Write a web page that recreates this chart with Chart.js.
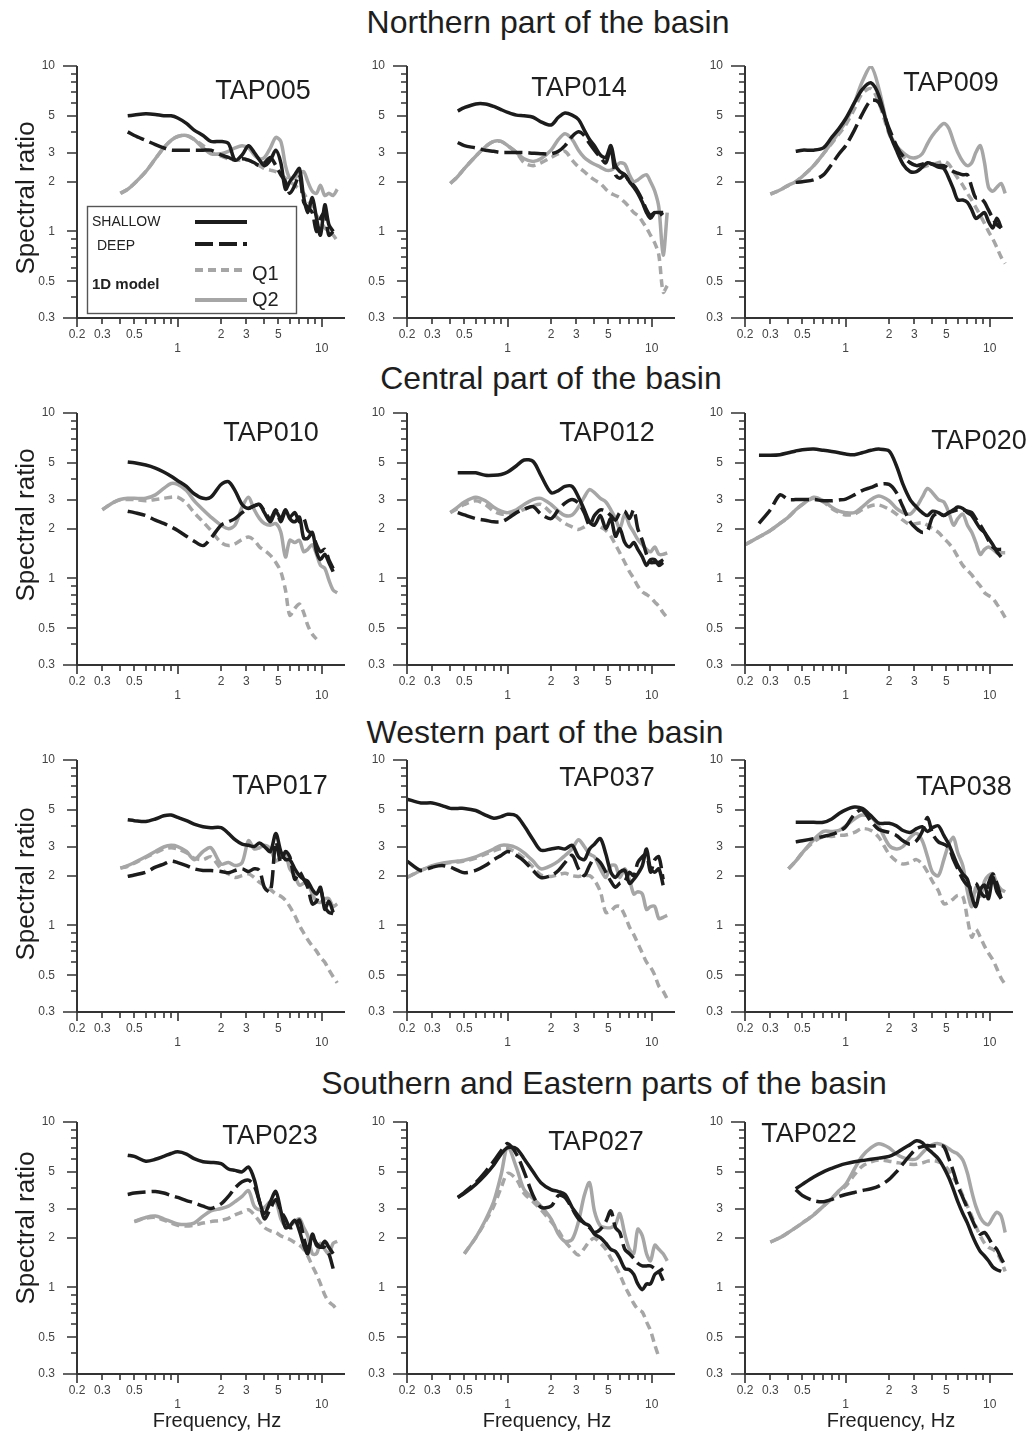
<!DOCTYPE html>
<html>
<head>
<meta charset="utf-8">
<title>Spectral ratios across the basin</title>
<script src="https://cdn.jsdelivr.net/npm/chart.js@4.4.1/dist/chart.umd.min.js"></script>
<style>
  html, body { margin: 0; padding: 0; background: #fff; }
  #page { position: relative; width: 1034px; height: 1433px; overflow: hidden;
          font-family: "Liberation Sans", Arial, sans-serif; color: #1e1e1e; }
  canvas { position: absolute; }
  .section, .station, .ytitle, .xtitle { position: absolute; white-space: nowrap; line-height: 1; }
  .section { font-size: 32px; transform: translate(-50%, -50%); }
  .station { font-size: 27px; transform: translate(-50%, -50%); }
  .ytitle  { font-size: 26px; transform: translate(-50%, -50%) rotate(-90deg); }
  .xtitle  { font-size: 20px; transform: translate(-50%, -50%); }
</style>
</head>
<body>
<div id="page"></div>
<script>
const _ = null;

// frequency grid (Hz) shared by every curve
const FREQ = [0.2, 0.25, 0.3, 0.35, 0.4, 0.45, 0.5, 0.6, 0.7, 0.8,
              0.9, 1.0, 1.15, 1.3, 1.5, 1.7, 2.0, 2.25, 2.5, 2.8,
              3.1, 3.4, 3.7, 4.0, 4.4, 4.8, 5.2, 5.6, 6.0, 6.5,
              7.0, 7.5, 8.0, 8.6, 9.2, 9.8, 10.5, 11.2, 12.0, 12.8];

const X_TICKS = [0.2, 0.3, 0.4, 0.5, 0.6, 0.7, 0.8, 0.9, 1, 2, 3, 4, 5, 6, 7, 8, 9, 10];
const X_LABELS = [0.2, 0.3, 0.5, 2, 3, 5];
const X_LOW_LABELS = [1, 10];
const Y_TICKS = [0.3, 0.4, 0.5, 0.6, 0.7, 0.8, 0.9, 1, 2, 3, 4, 5, 6, 7, 8, 9, 10];
const Y_LABELS = [0.3, 0.5, 1, 2, 3, 5, 10];

const SECTIONS = ['Northern part of the basin', 'Central part of the basin',
                  'Western part of the basin', 'Southern and Eastern parts of the basin'];
const STATIONS = ['TAP005', 'TAP014', 'TAP009', 'TAP010', 'TAP012', 'TAP020',
                  'TAP017', 'TAP037', 'TAP038', 'TAP023', 'TAP027', 'TAP022'];
const SERIES_NAMES = ['SHALLOW', 'DEEP', 'Q1', 'Q2'];

// ---- Northern part ----
const tap005Shallow = [_,_,_,_,_,5.0,5.05,5.15,5.1,5.0, 5.0,4.85,4.5,4.1,3.8,3.5,3.5,3.4,2.7,2.9, 3.3,3.0,2.7,2.5,2.7,3.1,2.6,1.8,2.0,2.2, 2.4,1.6,1.3,1.6,1.2,0.95,1.45,1.1,1.0,_];
const tap005Deep    = [_,_,_,_,_,4.0,3.8,3.55,3.35,3.2, 3.1,3.1,3.1,3.1,3.1,3.1,2.9,2.8,2.7,2.75, 2.7,2.6,2.5,2.6,2.8,2.5,2.2,2.0,1.7,1.9, 2.2,1.5,1.4,1.3,1.0,1.2,1.3,0.95,1.0,_];
const tap005Q1      = [_,_,_,_,1.7,1.8,1.95,2.3,2.75,3.2, 3.55,3.75,3.8,3.6,3.3,3.0,2.85,2.75,2.7,2.7, 2.7,2.6,2.5,2.4,2.35,2.3,2.2,2.1,2.0,1.9, 1.8,1.7,1.55,1.4,1.25,1.15,1.05,1.0,0.95,0.88];
const tap005Q2      = [_,_,_,_,1.7,1.8,1.95,2.3,2.75,3.2, 3.55,3.75,3.8,3.6,3.2,2.95,2.95,3.05,3.2,3.3, 3.2,2.9,2.75,2.8,3.2,3.7,3.5,2.5,2.1,2.1, 2.25,2.3,2.0,1.75,1.7,1.9,1.65,1.7,1.65,1.8];

const tap014Shallow = [_,_,_,_,_,5.35,5.6,5.9,5.9,5.7, 5.45,5.25,5.05,5.0,4.9,4.6,4.4,4.9,5.2,5.05, 4.75,4.1,3.6,3.3,2.9,2.8,3.3,2.5,2.3,2.2, 2.0,1.85,1.7,1.5,1.3,1.2,1.3,1.3,1.3,_];
const tap014Deep    = [_,_,_,_,_,3.45,3.3,3.2,3.1,3.05, 3.0,3.0,3.0,3.0,2.97,2.95,2.95,3.05,3.3,3.75, 4.0,3.8,3.4,3.1,2.8,2.6,3.2,2.2,2.1,2.2, 2.0,1.9,1.75,1.55,1.35,1.25,1.3,1.25,1.3,_];
const tap014Q1      = [_,_,_,_,1.95,2.15,2.4,2.85,3.25,3.5, 3.5,3.3,3.0,2.6,2.5,2.6,2.8,2.95,3.05,2.7, 2.45,2.3,2.15,2.05,1.95,1.8,1.7,1.65,1.6,1.5, 1.4,1.3,1.25,1.15,1.05,0.95,0.85,0.72,0.43,0.47];
const tap014Q2      = [_,_,_,_,1.95,2.15,2.4,2.85,3.25,3.5, 3.5,3.3,3.0,2.75,2.65,2.75,3.1,3.6,3.9,3.6, 3.1,2.8,2.65,2.55,2.45,2.35,2.35,2.45,2.6,2.55, 2.2,2.0,2.05,2.15,2.2,2.0,1.75,1.4,0.72,1.3];

const tap009Shallow = [_,_,_,_,_,3.05,3.1,3.1,3.2,3.7, 4.2,4.8,6.0,7.2,7.9,6.6,4.0,3.1,2.55,2.3, 2.3,2.45,2.6,2.55,2.45,2.4,2.1,1.8,1.55,1.55, 1.5,1.35,1.2,1.25,1.3,1.15,1.05,1.2,1.05,_];
const tap009Deep    = [_,_,_,_,_,1.98,2.0,2.05,2.2,2.55, 2.95,3.3,4.1,5.1,6.2,6.0,4.2,3.3,2.85,2.6, 2.5,2.55,2.6,2.55,2.5,2.5,2.4,2.3,2.25,2.2, 2.2,1.85,1.6,1.6,1.5,1.35,1.2,1.1,1.05,_];
const tap009Q1      = [_,_,1.68,1.78,1.9,2.0,2.15,2.5,2.95,3.4, 3.9,4.4,5.5,6.8,7.3,6.0,3.9,3.2,2.85,2.6, 2.5,2.45,2.5,2.55,2.6,2.65,2.55,2.3,2.1,1.9, 1.7,1.55,1.4,1.25,1.12,1.0,0.9,0.8,0.7,0.64];
const tap009Q2      = [_,_,1.68,1.78,1.9,2.0,2.15,2.5,2.95,3.45, 4.0,4.6,6.0,8.0,9.9,7.3,4.0,3.3,3.0,2.8, 2.8,2.95,3.4,3.8,4.2,4.5,4.2,3.5,3.0,2.65, 2.5,2.6,3.0,3.3,2.6,1.85,1.75,1.85,1.95,1.7];

// ---- Central part ----
const tap010Shallow = [_,_,_,_,_,5.05,5.0,4.85,4.65,4.4, 4.15,3.9,3.6,3.25,3.05,3.1,3.7,3.85,3.4,2.8, 2.65,2.75,2.8,2.5,2.2,2.55,2.3,2.6,2.3,2.2, 2.35,1.75,1.75,1.9,1.45,1.3,1.4,1.25,1.1,_];
const tap010Deep    = [_,_,_,_,_,2.55,2.5,2.4,2.25,2.15, 2.05,1.95,1.8,1.68,1.58,1.75,2.1,2.2,2.3,2.5, 2.65,2.75,2.8,2.55,2.3,2.6,2.2,2.55,2.35,2.5, 2.2,2.3,1.95,1.85,1.6,1.45,1.5,1.3,1.15,_];
const tap010Q1      = [_,_,2.6,2.85,3.0,3.0,3.0,2.95,3.0,3.05, 3.1,3.1,2.85,2.5,2.2,1.95,1.65,1.58,1.62,1.72, 1.78,1.7,1.55,1.48,1.38,1.25,1.1,0.85,0.6,0.66, 0.7,0.62,0.52,0.46,0.43,_,_,_,_,_];
const tap010Q2      = [_,_,2.6,2.85,3.0,3.05,3.05,3.05,3.2,3.5, 3.75,3.7,3.4,2.95,2.6,2.35,2.1,2.0,2.1,2.7, 3.1,2.6,2.3,2.15,2.1,2.15,1.9,1.35,1.7,1.65, 1.7,1.45,1.5,1.6,1.4,1.2,1.15,0.98,0.85,0.82];

const tap012Shallow = [_,_,_,_,_,4.35,4.35,4.35,4.2,4.2, 4.25,4.4,4.8,5.2,5.1,4.2,3.3,3.4,3.6,3.6, 3.1,2.6,2.2,2.1,2.4,2.0,2.3,1.8,2.0,1.65, 1.55,1.65,1.5,1.35,1.2,1.3,1.3,1.2,1.25,_];
const tap012Deep    = [_,_,_,_,_,2.5,2.42,2.3,2.25,2.2, 2.2,2.3,2.5,2.62,2.72,2.45,2.3,2.6,2.85,3.0, 2.85,2.5,2.1,2.4,2.6,2.55,2.4,2.25,2.5,2.55, 2.3,2.6,2.0,1.7,1.4,1.25,1.25,1.25,1.3,_];
const tap012Q1      = [_,_,_,_,2.5,2.65,2.8,2.95,2.8,2.55, 2.45,2.45,2.5,2.62,2.75,2.8,2.5,2.3,2.15,2.05, 1.98,2.05,2.15,2.15,2.05,1.95,1.8,1.6,1.43,1.25, 1.1,1.0,0.9,0.83,0.8,0.77,0.72,0.68,0.62,0.58];
const tap012Q2      = [_,_,_,_,2.5,2.7,2.9,3.1,2.95,2.7, 2.55,2.5,2.6,2.8,3.0,3.05,2.8,2.55,2.4,2.42, 2.7,3.1,3.45,3.3,3.05,2.9,2.6,2.3,2.0,2.45, 2.1,1.9,1.72,1.6,1.5,1.45,1.55,1.4,1.4,1.43];

const tap020Shallow = [_,5.55,5.55,5.6,5.75,5.9,6.0,6.05,5.95,5.85, 5.75,5.65,5.6,5.75,5.95,6.05,5.9,4.8,3.7,3.0, 2.7,2.5,2.4,2.55,2.5,2.4,2.5,2.6,2.7,2.65, 2.5,2.4,2.2,2.0,1.9,1.75,1.6,1.45,1.35,_];
const tap020Deep    = [_,2.15,2.6,3.2,3.0,3.0,3.0,3.0,2.95,2.95, 2.98,3.02,3.2,3.4,3.55,3.7,3.7,3.3,2.7,2.2, 2.0,1.9,1.95,2.35,2.5,2.4,2.5,2.55,2.6,2.6, 2.55,2.5,2.3,2.1,1.9,1.7,1.55,1.5,1.5,_];
const tap020Q1      = [1.6,1.78,1.95,2.15,2.35,2.6,2.8,3.05,2.9,2.65, 2.5,2.42,2.45,2.6,2.75,2.78,2.62,2.45,2.25,2.12, 2.15,2.17,2.1,2.0,1.9,1.75,1.63,1.5,1.35,1.2, 1.12,1.05,0.97,0.9,0.82,0.79,0.76,0.7,0.64,0.58];
const tap020Q2      = [1.6,1.78,1.95,2.15,2.35,2.6,2.8,3.1,2.95,2.7, 2.55,2.5,2.5,2.7,3.0,3.15,2.95,2.65,2.5,2.45, 2.7,3.1,3.5,3.3,3.0,2.9,2.5,2.1,2.3,2.45, 2.1,1.9,1.65,1.4,1.5,1.55,1.5,1.43,1.43,1.43];

// ---- Western part ----
const tap017Shallow = [_,_,_,_,_,4.35,4.3,4.25,4.4,4.6, 4.65,4.5,4.3,4.1,3.95,3.9,3.9,3.6,3.3,3.1, 3.05,3.0,3.15,3.0,2.8,3.6,2.8,2.5,2.5,2.2, 2.0,1.9,1.85,1.65,1.55,1.7,1.25,1.4,1.2,_];
const tap017Deep    = [_,_,_,_,_,1.98,2.02,2.1,2.25,2.35, 2.45,2.4,2.3,2.2,2.15,2.15,2.12,2.08,2.15,2.2, 2.12,2.2,2.15,1.7,1.6,3.2,2.4,2.8,2.6,1.9, 2.1,1.9,1.7,1.35,1.4,1.65,1.3,1.2,1.18,_];
const tap017Q1      = [_,_,_,_,2.22,2.28,2.38,2.58,2.75,2.9, 2.95,2.9,2.75,2.55,2.5,2.6,2.2,2.05,1.95,2.0, 2.05,1.95,1.82,1.75,1.65,1.55,1.5,1.42,1.3,1.15, 1.0,0.9,0.82,0.75,0.7,0.64,0.6,0.54,0.49,0.45];
const tap017Q2      = [_,_,_,_,2.22,2.3,2.4,2.6,2.8,2.98, 3.05,3.0,2.8,2.5,2.8,2.95,2.35,2.4,2.3,2.4, 3.25,2.9,2.95,3.05,2.9,2.45,2.6,2.7,2.2,2.0, 1.75,1.8,1.8,1.55,1.4,1.38,1.45,1.45,1.3,1.35];

const tap037Shallow = [5.8,5.5,5.5,5.3,5.1,5.1,5.1,4.95,4.65,4.45, 4.55,4.7,4.6,4.0,3.3,2.85,2.9,2.95,2.9,3.05, 2.6,2.5,2.9,3.1,3.35,2.7,2.1,1.95,2.1,2.15, 1.8,1.9,2.05,2.3,2.9,2.2,2.1,2.2,1.75,_];
const tap037Deep    = [2.45,2.15,2.25,2.3,2.25,2.15,2.08,2.15,2.3,2.5, 2.65,2.8,2.65,2.45,2.15,1.95,2.0,2.15,2.4,2.65, 2.2,2.0,2.3,2.55,2.4,2.1,1.85,1.7,1.8,1.85, 2.1,2.0,2.4,2.6,2.7,2.1,2.5,2.6,1.9,_];
const tap037Q1      = [1.95,2.15,2.28,2.35,2.4,2.42,2.45,2.55,2.7,2.82, 2.92,2.92,2.75,2.55,2.25,2.02,1.98,2.03,2.07,2.0, 1.98,2.0,2.0,1.88,1.6,1.2,1.22,1.3,1.3,1.15, 0.98,0.88,0.78,0.68,0.6,0.56,0.5,0.43,0.4,0.36];
const tap037Q2      = [1.95,2.15,2.3,2.38,2.42,2.45,2.48,2.6,2.75,2.9, 3.05,3.05,2.95,2.75,2.45,2.2,2.3,2.45,2.65,2.9, 3.3,3.0,2.7,2.6,2.2,1.95,2.3,2.3,1.95,2.2, 1.9,1.55,1.6,1.55,1.25,1.3,1.3,1.1,1.12,1.15];

const tap038Shallow = [_,_,_,_,_,4.2,4.2,4.2,4.2,4.4, 4.75,5.0,5.2,5.1,4.6,4.15,4.15,4.0,3.75,3.65, 3.85,3.95,3.7,3.9,4.0,3.5,3.1,2.65,2.3,2.05, 1.9,1.5,1.3,1.65,1.75,1.45,1.95,1.6,1.45,_];
const tap038Deep    = [_,_,_,_,_,3.2,3.25,3.35,3.45,3.55, 3.7,3.95,4.7,5.0,4.25,3.8,3.65,3.5,3.25,3.1, 3.25,3.7,4.5,3.6,3.2,3.1,2.95,2.5,2.2,1.9, 1.75,1.7,1.8,1.6,1.5,1.8,2.05,1.8,1.45,_];
const tap038Q1      = [_,_,_,_,2.2,2.45,2.75,3.2,3.45,3.45, 3.5,3.52,3.65,3.85,3.75,3.4,2.7,2.45,2.35,2.4, 2.5,2.35,2.1,1.85,1.62,1.35,1.38,1.45,1.52,1.5, 1.1,0.85,0.95,0.85,0.75,0.68,0.62,0.55,0.48,0.44];
const tap038Q2      = [_,_,_,_,2.2,2.45,2.75,3.3,3.7,3.7, 3.75,4.0,4.4,4.65,4.5,3.95,3.05,2.9,3.0,3.4, 3.6,3.25,2.6,2.1,2.0,2.5,3.1,3.4,2.75,2.3, 1.6,1.3,1.7,1.5,1.85,2.0,2.05,1.8,1.65,1.6];

// ---- Southern and Eastern parts ----
const tap023Shallow = [_,_,_,_,_,6.3,6.2,5.8,5.95,6.2, 6.45,6.6,6.4,6.0,5.75,5.7,5.6,5.2,5.1,5.0, 5.35,4.5,3.3,2.8,3.3,3.8,2.9,2.3,2.35,2.55, 2.2,1.8,1.6,2.1,1.8,1.75,1.9,1.75,1.6,_];
const tap023Deep    = [_,_,_,_,_,3.65,3.72,3.78,3.8,3.72, 3.6,3.5,3.35,3.25,3.1,3.0,3.2,3.55,4.0,4.35, 4.45,4.1,3.3,2.6,3.0,3.4,2.9,2.6,2.3,2.35, 2.55,2.0,1.7,2.0,1.85,1.75,1.75,1.6,1.3,_];
const tap023Q1      = [_,_,_,_,_,_,2.5,2.62,2.65,2.55, 2.45,2.38,2.35,2.38,2.45,2.5,2.55,2.62,2.75,2.85, 2.95,2.75,2.5,2.3,2.2,2.15,2.05,2.0,1.95,1.87, 1.8,1.7,1.55,1.35,1.2,1.05,0.9,0.82,0.78,0.73];
const tap023Q2      = [_,_,_,_,_,_,2.5,2.65,2.7,2.6, 2.5,2.42,2.4,2.45,2.7,2.9,3.0,3.1,3.3,3.55, 3.85,3.1,2.95,3.05,3.3,3.3,2.6,2.35,2.35,2.5, 2.6,2.3,2.05,1.6,1.6,1.85,1.7,1.6,1.85,1.9];

const tap027Shallow = [_,_,_,_,_,3.5,3.7,4.2,4.8,5.5, 6.4,7.0,6.9,6.0,5.0,4.3,3.9,3.8,3.65,3.05, 2.7,2.45,2.35,2.1,2.0,1.85,1.7,1.65,1.5,1.3, 1.28,1.2,1.05,0.97,1.05,1.05,1.2,1.25,1.3,_];
const tap027Deep    = [_,_,_,_,_,3.5,3.75,4.3,5.0,5.8, 6.7,7.4,6.4,5.0,3.6,3.05,3.1,3.6,3.5,3.0, 2.6,2.45,2.3,2.15,2.25,2.5,2.9,2.3,2.15,1.7, 1.6,1.5,1.4,1.35,1.35,1.35,1.3,1.25,1.1,_];
const tap027Q1      = [_,_,_,_,_,_,1.6,2.0,2.5,3.1, 4.0,4.9,4.5,3.7,3.3,2.95,2.5,2.2,1.9,1.7, 1.57,1.72,1.9,1.98,1.85,1.7,1.5,1.35,1.2,1.02, 0.9,0.8,0.74,0.71,0.62,0.55,0.45,0.38,_,_];
const tap027Q2      = [_,_,_,_,_,_,1.6,2.0,2.55,3.3, 4.8,7.1,5.3,3.9,3.45,3.1,2.6,2.1,1.9,1.95, 2.5,3.6,4.3,2.9,2.35,2.3,2.3,2.4,2.8,2.1, 1.7,1.6,2.25,2.05,1.6,1.45,1.8,1.7,1.6,1.45];

const tap022Shallow = [_,_,_,_,_,3.95,4.2,4.65,5.0,5.25, 5.45,5.6,5.75,5.85,5.95,6.05,6.2,6.5,6.9,7.3, 7.7,7.5,6.9,6.5,6.0,5.3,4.6,3.9,3.3,2.8, 2.45,2.1,1.85,1.65,1.55,1.45,1.33,1.28,1.25,_];
const tap022Deep    = [_,_,_,_,_,3.9,3.6,3.35,3.3,3.4, 3.55,3.65,3.75,3.85,3.95,4.1,4.5,5.0,5.6,6.3, 6.9,7.1,7.2,7.15,7.2,7.1,6.0,5.0,4.1,3.5, 3.0,2.6,2.3,2.1,2.15,2.0,1.8,1.7,1.5,1.35];
const tap022Q1      = [_,_,1.88,2.0,2.15,2.3,2.45,2.75,3.1,3.45, 3.8,4.1,4.8,5.4,5.75,5.9,5.8,5.7,5.6,5.55, 5.55,5.65,5.8,5.85,5.75,5.5,5.1,4.6,4.2,3.6, 3.1,2.7,2.35,2.05,1.85,1.75,1.7,1.62,1.45,1.25];
const tap022Q2      = [_,_,1.88,2.0,2.15,2.3,2.45,2.75,3.1,3.45, 3.85,4.2,5.2,6.2,7.0,7.4,7.0,6.4,6.1,5.95, 6.0,6.5,7.0,7.3,7.4,7.2,6.9,6.6,6.4,5.9, 4.9,3.8,3.1,2.65,2.45,2.4,2.65,2.85,2.7,2.15];

const STATION_SERIES = [
  [tap005Shallow, tap005Deep, tap005Q1, tap005Q2],
  [tap014Shallow, tap014Deep, tap014Q1, tap014Q2],
  [tap009Shallow, tap009Deep, tap009Q1, tap009Q2],
  [tap010Shallow, tap010Deep, tap010Q1, tap010Q2],
  [tap012Shallow, tap012Deep, tap012Q1, tap012Q2],
  [tap020Shallow, tap020Deep, tap020Q1, tap020Q2],
  [tap017Shallow, tap017Deep, tap017Q1, tap017Q2],
  [tap037Shallow, tap037Deep, tap037Q1, tap037Q2],
  [tap038Shallow, tap038Deep, tap038Q1, tap038Q2],
  [tap023Shallow, tap023Deep, tap023Q1, tap023Q2],
  [tap027Shallow, tap027Deep, tap027Q1, tap027Q2],
  [tap022Shallow, tap022Deep, tap022Q1, tap022Q2],
];

// ---- layout ----
const FONT = '"Liberation Sans", Arial, sans-serif';
const INK = '#1c1c1c';
const GREY = '#a6a6a6';
const AXIS = '#333';
const X_MAX = 14.5;
const COL_X = [77, 407, 745];          // page x of the y axis
const ROW_Y = [66, 413, 760, 1122];    // page y of the top of each plot
const PLOT_W = 268, PLOT_H = 252;
const Y_AXIS_W = 50, X_AXIS_H = 40, PAD_TOP = 14, PAD_RIGHT = 8;
const SECTION_POS = [[548, 22], [551, 378], [545, 732], [604, 1083]];
const TITLE_POS = [[263, 90], [579, 87], [951, 82], [271, 432], [607, 432], [979, 440],
                   [280, 785], [607, 777], [964, 786], [270, 1135], [596, 1141], [809, 1133]];
const YTITLE_POS = [[25, 198], [25, 525], [25, 884], [25, 1228]];
const XTITLE_POS = [[217, 1420], [547, 1420], [891, 1420]];

const STYLES = [
  { color: INK,  dash: [],      order: 1 },
  { color: INK,  dash: [18, 6], order: 2 },
  { color: GREY, dash: [8, 5],  order: 3 },
  { color: GREY, dash: [],      order: 4 },
];

const page = document.getElementById('page');

function addText(cls, text, x, y) {
  const d = document.createElement('div');
  d.className = cls;
  d.textContent = text;
  d.style.left = x + 'px';
  d.style.top = y + 'px';
  page.appendChild(d);
}

// axis lines and tick marks of varying length
const axisPlugin = {
  id: 'logAxes',
  afterDraw(chart) {
    const { ctx, chartArea: a, scales: { x, y } } = chart;
    ctx.save();
    ctx.strokeStyle = AXIS;
    ctx.lineWidth = 2;
    ctx.beginPath();
    ctx.moveTo(a.left, a.top);
    ctx.lineTo(a.left, a.bottom);
    ctx.lineTo(a.right, a.bottom);
    ctx.stroke();
    ctx.lineWidth = 1.6;
    ctx.beginPath();
    Y_TICKS.forEach(v => {
      const py = Math.round(y.getPixelForValue(v));
      const len = (v === 10 || v === 0.3) ? 14 : Y_LABELS.includes(v) ? 10 : 6;
      ctx.moveTo(a.left - len, py);
      ctx.lineTo(a.left, py);
    });
    X_TICKS.forEach(v => {
      const px = Math.round(x.getPixelForValue(v));
      const len = (v === 1 || v === 10 || v === 0.2) ? 9 : 6;
      ctx.moveTo(px, a.bottom);
      ctx.lineTo(px, a.bottom + len);
    });
    ctx.stroke();
    ctx.restore();
  }
};

// boxed key shown in the first panel
const keyPlugin = {
  id: 'seriesKey',
  afterDatasetsDraw(chart) {
    const { ctx, chartArea: a } = chart;
    const L = a.left, T = a.top;
    ctx.save();
    ctx.fillStyle = '#fff';
    ctx.fillRect(L + 10, T + 140, 209, 107);
    ctx.strokeStyle = '#555';
    ctx.lineWidth = 1.4;
    ctx.strokeRect(L + 10.5, T + 140.5, 209, 107);

    const seg = (y, k, x1, x2) => {
      ctx.beginPath();
      ctx.strokeStyle = STYLES[k].color;
      ctx.lineWidth = 3.8;
      ctx.setLineDash(STYLES[k].dash);
      ctx.moveTo(L + x1, T + y);
      ctx.lineTo(L + x2, T + y);
      ctx.stroke();
    };
    seg(156, 0, 118, 170);
    seg(178, 1, 118, 170);
    seg(204, 2, 118, 168);
    seg(234, 3, 118, 170);
    ctx.setLineDash([]);

    ctx.fillStyle = '#222';
    ctx.textBaseline = 'middle';
    ctx.textAlign = 'left';
    ctx.font = '14px ' + FONT;
    ctx.fillText(SERIES_NAMES[0], L + 15, T + 156);
    ctx.fillText(SERIES_NAMES[1], L + 20, T + 180);
    ctx.font = '20px ' + FONT;
    ctx.fillText(SERIES_NAMES[2], L + 175, T + 208);
    ctx.fillText(SERIES_NAMES[3], L + 175, T + 234);
    ctx.font = 'bold 15px ' + FONT;
    ctx.fillText('1D model', L + 15, T + 219);
    ctx.restore();
  }
};

function makePanel(idx) {
  const col = idx % 3, row = Math.floor(idx / 3);
  const canvas = document.createElement('canvas');
  const w = Y_AXIS_W + PLOT_W + PAD_RIGHT, h = PAD_TOP + PLOT_H + X_AXIS_H;
  canvas.width = w;
  canvas.height = h;
  canvas.style.left = (COL_X[col] - Y_AXIS_W) + 'px';
  canvas.style.top = (ROW_Y[row] - PAD_TOP) + 'px';
  canvas.style.width = w + 'px';
  canvas.style.height = h + 'px';
  page.appendChild(canvas);

  const series = STATION_SERIES[idx];
  const tickFont = { family: FONT, size: 12 };

  new Chart(canvas, {
    type: 'line',
    data: {
      datasets: SERIES_NAMES.map((name, k) => ({
        label: name,
        data: FREQ.map((f, i) => ({ x: f, y: series[k][i] })),
        borderColor: STYLES[k].color,
        borderDash: STYLES[k].dash,
        borderWidth: 3.5,
        borderJoinStyle: 'round',
        pointRadius: 0,
        tension: 0.3,
        fill: false,
        spanGaps: false,
        order: STYLES[k].order,
      }))
    },
    options: {
      responsive: false,
      animation: false,
      events: [],
      layout: { padding: { top: PAD_TOP, right: PAD_RIGHT, left: 0, bottom: 0 } },
      plugins: { legend: { display: false }, tooltip: { enabled: false }, title: { display: false } },
      scales: {
        // tick marks are drawn by logAxes; tickLength only offsets the labels
        x: {
          type: 'logarithmic', min: 0.2, max: X_MAX, bounds: 'data',
          grid: { display: false, drawTicks: true, tickLength: 9 },
          border: { display: false },
          afterBuildTicks: s => { s.ticks = X_TICKS.map(v => ({ value: v })); },
          afterFit: s => { s.height = X_AXIS_H; },
          ticks: {
            autoSkip: false, maxRotation: 0, minRotation: 0, padding: 0,
            color: '#444', font: tickFont,
            callback: v => X_LOW_LABELS.includes(v) ? ['', String(v)]
                         : X_LABELS.includes(v) ? String(v) : ''
          }
        },
        y: {
          type: 'logarithmic', min: 0.3, max: 10, bounds: 'data',
          grid: { display: false, drawTicks: true, tickLength: 22 },
          border: { display: false },
          afterBuildTicks: s => { s.ticks = Y_TICKS.map(v => ({ value: v })); },
          afterFit: s => { s.width = Y_AXIS_W; },
          ticks: {
            autoSkip: false, padding: 0, color: '#444', font: tickFont,
            callback: v => Y_LABELS.includes(v) ? String(v) : ''
          }
        }
      }
    },
    plugins: idx === 0 ? [axisPlugin, keyPlugin] : [axisPlugin]
  });

  addText('station', STATIONS[idx], TITLE_POS[idx][0], TITLE_POS[idx][1]);
}

SECTIONS.forEach((s, i) => addText('section', s, SECTION_POS[i][0], SECTION_POS[i][1]));
STATIONS.forEach((s, i) => makePanel(i));
YTITLE_POS.forEach(p => addText('ytitle', 'Spectral ratio', p[0], p[1]));
XTITLE_POS.forEach(p => addText('xtitle', 'Frequency, Hz', p[0], p[1]));
</script>
</body>
</html>
